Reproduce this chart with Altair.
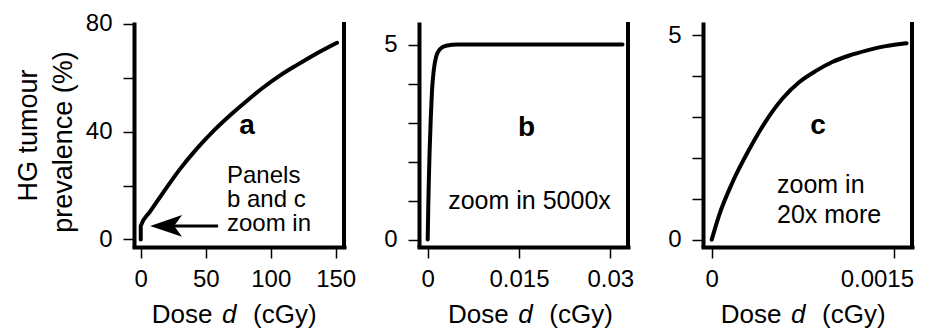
import altair as alt
import pandas as pd

# ---- data ----
dose_a = [0, 0, 7, 17, 30, 43, 56, 69, 82, 94, 107, 120, 133, 151]
prev_a = [0, 5, 10.2, 17.2, 26, 33.6, 40.3, 46.2, 51.6, 56.3, 60.8, 64.7, 68.4, 73.0]

dose_b = [0, 0.0001, 0.0002, 0.0003, 0.0005, 0.0007, 0.001, 0.0014, 0.002, 0.003, 0.005, 0.01, 0.02, 0.032]
prev_b = [0, 0.9, 1.6, 2.2, 3.1, 3.8, 4.35, 4.7, 4.88, 4.97, 5.0, 5.0, 5.0, 5.0]

dose_c = [0, 0.00006, 0.00017, 0.00031, 0.00044, 0.00058, 0.00072, 0.00086, 0.00099, 0.00113, 0.00127, 0.00143, 0.0016]
prev_c = [0, 0.59, 1.40, 2.22, 2.88, 3.45, 3.86, 4.14, 4.35, 4.51, 4.63, 4.74, 4.81]

xticks_a = [0, 50, 100, 150]
yticks_a = [0, 20, 40, 60, 80]
xticks_b = [0, 0.015, 0.03]
xticks_c = [0, 0.0015]
yticks_bc = [0, 1, 2, 3, 4, 5]

FONT = "Liberation Sans"
H = 225


def frame(df_x, df_y):
    return pd.DataFrame({"dose": df_x, "prev": df_y, "i": list(range(len(df_x)))})


def txt(text, x, y, size=25, weight="normal", style="normal", align="left", angle=0):
    return alt.Chart(pd.DataFrame({"t": [text]})).mark_text(
        font=FONT, fontSize=size, fontWeight=weight, fontStyle=style,
        align=align, baseline="alphabetic", angle=angle, color="black"
    ).encode(x=alt.value(x), y=alt.value(y), text="t:N")


def xtitle(x0):
    yb = 300.5
    return [txt("Dose", x0, yb, 26), txt("d", x0 + 70.3, yb, 26, style="italic"),
            txt("(cGy)", x0 + 101.3, yb, 26)]


def right_rule(w):
    return alt.Chart(pd.DataFrame({"k": [0]})).mark_rule(color="black", strokeWidth=4).encode(
        x=alt.value(w), y=alt.value(0), y2=alt.value(H))


def axis_kw(**kw):
    base = dict(title=None, grid=False, domainColor="black", domainWidth=4,
                tickColor="black", tickWidth=1.5, tickSize=11,
                labelFont=FONT, labelFontSize=24, labelColor="black",
                labelFlush=False, labelOverlap=False)
    base.update(kw)
    return alt.Axis(**base)


def panel(df, xdom, ydom, xvals, yvals, ylab_expr, xaxis_extra=None):
    xa = dict(values=xvals, labelExpr="'' + datum.value", labelPadding=9, domainCap="square")
    if xaxis_extra:
        xa.update(xaxis_extra)
    line = alt.Chart(df).mark_line(color="black", strokeWidth=4, interpolate="monotone",
                                   strokeCap="round").encode(
        x=alt.X("dose:Q", scale=alt.Scale(domain=xdom, nice=False, zero=False),
                axis=axis_kw(**xa)),
        y=alt.Y("prev:Q", scale=alt.Scale(domain=ydom, nice=False, zero=False),
                axis=axis_kw(values=yvals, labelExpr=ylab_expr, labelPadding=11,
                             domainCap="butt")),
        order=alt.Order("i:Q"),
    )
    return line


# ---- panel a ----
pa_line = panel(frame(dose_a, prev_a), [-5.2, 156.4], [-2.8, 80.7], xticks_a, yticks_a,
                "datum.value % 40 === 0 ? '' + datum.value : ''")
arrow_shaft = alt.Chart(pd.DataFrame({"k": [0]})).mark_rule(color="black", strokeWidth=3).encode(
    x=alt.datum(25), x2=alt.datum(59.5), y=alt.datum(5))
arrow_head = alt.Chart(pd.DataFrame({"k": [0]})).mark_point(
    shape="M 0 0 L 2 -0.68 L 1.5 0 L 2 0.68 Z", size=1024, filled=True,
    color="black", opacity=1, strokeWidth=0).encode(x=alt.datum(7.2), y=alt.datum(5))
pa = alt.layer(
    pa_line, right_rule(210), arrow_shaft, arrow_head,
    txt("a", 113, 111.5, 28, weight="bold", align="center"),
    txt("Panels", 93, 161, 24), txt("b and c", 93, 185, 24), txt("zoom in", 93, 209, 24),
    txt("HG tumour", -97, 113.5, 27, align="center", angle=270),
    txt("prevalence (%)", -62, 120, 27, align="center", angle=270),
    *xtitle(17.7),
).properties(width=210, height=H)

# ---- panel b ----
pb_line = panel(frame(dose_b, prev_b), [-0.00143, 0.0329], [-0.19, 5.58], xticks_b, yticks_bc,
                "datum.value === 0 || datum.value === 5 ? '' + datum.value : ''")
pb = alt.layer(
    pb_line, right_rule(209),
    txt("b", 107.5, 113.5, 28, weight="bold", align="center"),
    txt("zoom in 5000x", 110.5, 186.5, align="center"),
    *xtitle(29),
).properties(width=209, height=H)

# ---- panel c ----
pc_line = panel(frame(dose_c, prev_c), [-0.0000715, 0.001645], [-0.18, 5.33], xticks_c, yticks_bc,
                "datum.value === 0 || datum.value === 5 ? '' + datum.value : ''",
                xaxis_extra={"labelOffset": {"condition": {"test": "datum.value > 0.001", "value": -17.5},
                                             "value": 0}})
pc = alt.layer(
    pc_line, right_rule(209),
    txt("c", 115, 111.5, 28, weight="bold", align="center"),
    txt("zoom in", 74, 170.5), txt("20x more", 74, 200.5),
    *xtitle(17.7),
).properties(width=209, height=H)

chart = alt.hconcat(pa, pb, pc, spacing=75, bounds="flush").properties(
    padding={"left": 15, "top": 11, "right": 0, "bottom": 0}
).configure(background="white", font=FONT).configure_view(stroke=None)

chart.save("out.html", embed_options={"renderer": "svg", "actions": False})
